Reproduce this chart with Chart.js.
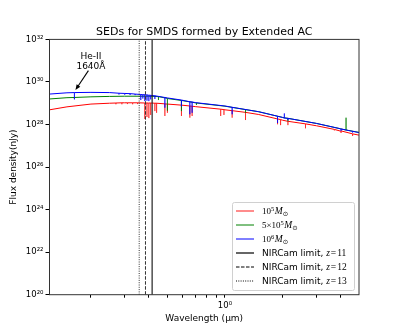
<!DOCTYPE html>
<html>
<head>
<meta charset="utf-8">
<script src="https://cdn.jsdelivr.net/npm/chart.js@4"></script>
<style>
  html, body { margin: 0; padding: 0; background: #fff; }
  #wrap { width: 399px; height: 332px; }
</style>
</head>
<body>
<div id="wrap"><canvas id="chart" width="399" height="332"></canvas></div>
<script>
// continuum (log10 of flux in nJy)
const wavelengths = [0.1216, 0.15, 0.2, 0.25, 0.3, 0.4, 0.5, 0.7, 1.0, 1.5, 2.0, 3.0, 4.0, 5.0];
const logFlux1e5 = [28.69, 28.83, 28.96, 29.00, 29.02, 29.01, 28.96, 28.84, 28.69, 28.47, 28.20, 27.94, 27.69, 27.50];
const logFlux5e5 = [29.20, 29.26, 29.30, 29.32, 29.33, 29.33, 29.23, 29.02, 28.86, 28.60, 28.33, 28.05, 27.80, 27.63];
const logFlux1e6 = [29.43, 29.49, 29.51, 29.50, 29.46, 29.38, 29.25, 29.03, 28.87, 28.60, 28.33, 28.05, 27.80, 27.62];

// spectral lines: [wavelength, log flux at the continuum, log flux at the tip]
const lines1e5 = [
  [0.27, 29.01, 28.95], [0.29, 29.02, 28.95], [0.31, 29.02, 28.96], [0.33, 29.02, 28.95],
  [0.35, 29.02, 28.96], [0.382, 29.01, 28.26], [0.392, 29.01, 28.35], [0.401, 29.01, 28.30],
  [0.410, 29.01, 28.45], [0.431, 29.00, 28.63], [0.440, 29.00, 28.55], [0.486, 28.97, 28.40],
  [0.501, 28.96, 28.55], [0.593, 28.91, 28.40], [0.656, 28.87, 28.32], [0.674, 28.86, 28.40],
  [0.950, 28.72, 28.40], [0.988, 28.70, 28.45], [1.09, 28.65, 28.32], [1.28, 28.57, 28.21],
  [1.88, 28.26, 28.01], [1.95, 28.23, 27.97], [2.13, 28.15, 27.97], [2.63, 28.03, 27.82],
  [3.72, 27.77, 27.72], [4.03, 27.70, 27.60], [4.63, 27.56, 27.46]
];
const lines5e5 = [
  [0.164, 29.27, 29.22], [0.45, 29.31, 29.15], [0.501, 29.22, 28.65], [0.593, 29.13, 28.63],
  [0.71, 29.01, 28.92], [1.28, 28.70, 28.55], [2.13, 28.29, 28.15], [4.28, 27.74, 28.32]
];
const lines1e6 = [
  [0.164, 29.50, 29.18], [0.28, 29.47, 29.41], [0.30, 29.46, 29.40], [0.32, 29.45, 29.39],
  [0.34, 29.43, 29.38], [0.364, 29.41, 29.15], [0.373, 29.40, 29.22], [0.382, 29.40, 29.10],
  [0.392, 29.39, 29.12], [0.401, 29.38, 29.10], [0.410, 29.37, 29.18], [0.431, 29.35, 29.20],
  [0.486, 29.27, 28.79], [0.593, 29.15, 28.85], [0.656, 29.07, 28.48], [0.674, 29.06, 28.55],
  [1.09, 28.81, 28.48], [1.88, 28.39, 28.07], [2.04, 28.30, 28.52], [2.13, 28.29, 28.20],
  [4.03, 27.79, 27.70], [4.63, 27.68, 27.62]
];

// NIRCam red limit in rest frame, z = 11, 12, 13
const nircamLimits = [0.417, 0.385, 0.357];
const nircamRedshifts = ["11", "12", "13"];

const yTickExps = [20, 22, 24, 26, 28, 30, 32];
const xTicks = [0.2, 0.3, 0.4, 0.5, 0.6, 0.7, 0.8, 0.9, 1, 2, 3, 4];

const heIIText = ["He-II", "1640Å"];
const heIIArrowFrom = [0.194, 30.53];
const heIIArrowTo = [0.166, 29.62];

const sup = s => String(s).split("").map(c => "⁰¹²³⁴⁵⁶⁷⁸⁹"[+c]).join("");

function buildSeries(logs, lines) {
  const pts = wavelengths.map((w, i) => ({ x: w, y: Math.pow(10, logs[i]) }));
  lines.forEach(([w, top, tip]) => {
    pts.push({ x: w, y: Math.pow(10, top) }, { x: w, y: Math.pow(10, tip) }, { x: w, y: Math.pow(10, top) });
  });
  return pts.sort((a, b) => a.x - b.x);
}

const series = [
  { data: buildSeries(logFlux1e5, lines1e5), color: "#ff0000", spike: "rgba(255,0,0,0.6)", order: 3 },
  { data: buildSeries(logFlux5e5, lines5e5), color: "#008000", spike: "rgba(0,128,0,0.7)", order: 2 },
  { data: buildSeries(logFlux1e6, lines1e6), color: "#0000ff", spike: "rgba(0,0,255,0.7)", order: 1 }
];
const dashes = [[], [3.5, 1.5], [1, 1.3]];

const datasets = series.map(s => ({
  data: s.data, borderColor: s.color, borderWidth: 1, pointRadius: 0, tension: 0, order: s.order,
  segment: { borderColor: c => (c.p0.parsed.x === c.p1.parsed.x ? s.spike : undefined) }
}));
nircamLimits.forEach((w, i) => {
  datasets.push({
    data: [{ x: w, y: 1e20 }, { x: w, y: 1e32 }],
    borderColor: i === 0 ? "#222" : "#333", borderWidth: i === 0 ? 1.2 : 1,
    borderDash: dashes[i], pointRadius: 0, order: 0
  });
});

const legendItems = [
  { color: "rgba(255,0,0,0.45)", width: 2, dash: [], math: ["10", "5"] },
  { color: "#008000", width: 1, dash: [], math: ["5×10", "5"] },
  { color: "#0000ff", width: 1, dash: [], math: ["10", "6"] },
  { color: "#000", width: 1.2, dash: [], z: nircamRedshifts[0] },
  { color: "#000", width: 1, dash: dashes[1], z: nircamRedshifts[1] },
  { color: "#000", width: 1, dash: dashes[2], z: nircamRedshifts[2] }
];

const decor = {
  id: "decor",
  afterDraw(chart) {
    const { ctx, chartArea: a, scales: { x, y } } = chart;
    ctx.save();
    ctx.strokeStyle = "#333";
    ctx.lineWidth = 1;
    ctx.strokeRect(a.left, a.top, a.right - a.left, a.bottom - a.top);

    ctx.fillStyle = "#000";
    ctx.textAlign = "center";
    ctx.textBaseline = "alphabetic";
    ctx.font = '11px "DejaVu Sans"';
    ctx.fillText("SEDs for SMDS formed by Extended AC", (a.left + a.right) / 2, 34.5);
    ctx.font = '9px "DejaVu Sans"';
    ctx.fillText("Wavelength (μm)", (a.left + a.right) / 2, 321);
    ctx.save();
    ctx.translate(13.5, (a.top + a.bottom) / 2);
    ctx.rotate(-Math.PI / 2);
    ctx.textBaseline = "middle";
    ctx.fillText("Flux density(nJy)", 0, 0);
    ctx.restore();

    // He-II annotation
    const tx = x.getPixelForValue(0.2);
    ctx.font = '9px "DejaVu Sans"';
    ctx.fillText(heIIText[0], tx, y.getPixelForValue(Math.pow(10, 31.1)));
    ctx.fillText(heIIText[1], tx, y.getPixelForValue(Math.pow(10, 30.6)));
    const x0 = x.getPixelForValue(heIIArrowFrom[0]), y0 = y.getPixelForValue(Math.pow(10, heIIArrowFrom[1]));
    const x1 = x.getPixelForValue(heIIArrowTo[0]), y1 = y.getPixelForValue(Math.pow(10, heIIArrowTo[1]));
    const ang = Math.atan2(y1 - y0, x1 - x0);
    ctx.strokeStyle = "#000";
    ctx.lineWidth = 1.1;
    ctx.beginPath();
    ctx.moveTo(x0, y0);
    ctx.lineTo(x1 - 4 * Math.cos(ang), y1 - 4 * Math.sin(ang));
    ctx.stroke();
    ctx.beginPath();
    ctx.moveTo(x1, y1);
    ctx.lineTo(x1 - 5.5 * Math.cos(ang) + 2.2 * Math.sin(ang), y1 - 5.5 * Math.sin(ang) - 2.2 * Math.cos(ang));
    ctx.lineTo(x1 - 5.5 * Math.cos(ang) - 2.2 * Math.sin(ang), y1 - 5.5 * Math.sin(ang) + 2.2 * Math.cos(ang));
    ctx.closePath();
    ctx.fill();

    // legend
    const lx = 232.5, ly = 202.5, lw = 122, lh = 88;
    ctx.fillStyle = "rgba(255,255,255,0.85)";
    ctx.strokeStyle = "#d0d0d0";
    ctx.lineWidth = 1;
    ctx.beginPath();
    ctx.roundRect(lx, ly, lw, lh, 2);
    ctx.fill();
    ctx.stroke();
    legendItems.forEach((it, i) => {
      const ry = 211 + i * 14;
      ctx.strokeStyle = it.color;
      ctx.lineWidth = it.width;
      ctx.setLineDash(it.dash);
      ctx.beginPath();
      ctx.moveTo(236, ry);
      ctx.lineTo(254, ry);
      ctx.stroke();
      ctx.setLineDash([]);
      ctx.fillStyle = "#000";
      ctx.textAlign = "left";
      ctx.textBaseline = "alphabetic";
      let px = 262;
      const base = ry + 3.2;
      if (it.math) {
        ctx.font = '9px "Liberation Serif"';
        ctx.fillText(it.math[0], px, base); px += ctx.measureText(it.math[0]).width;
        ctx.font = '6.5px "Liberation Serif"';
        ctx.fillText(it.math[1], px, base - 3.5); px += ctx.measureText(it.math[1]).width + 0.5;
        ctx.font = 'italic 9.5px "Liberation Serif"';
        ctx.fillText("M", px, base); px += ctx.measureText("M").width;
        ctx.font = '6.5px "DejaVu Sans"';
        ctx.fillText("⊙", px, base + 2);
      } else {
        ctx.font = '9px "DejaVu Sans"';
        const t = "NIRCam limit, ";
        ctx.fillText(t, px, base); px += ctx.measureText(t).width;
        ctx.font = 'italic 9.5px "Liberation Serif"';
        ctx.fillText("z", px, base); px += ctx.measureText("z").width + 1;
        ctx.font = '9.5px "Liberation Serif"';
        ctx.fillText("=", px, base); px += ctx.measureText("=").width + 1;
        ctx.fillText(it.z, px, base);
      }
    });
    ctx.restore();
  }
};

new Chart(document.getElementById("chart").getContext("2d"), {
  type: "line",
  data: { datasets },
  plugins: [decor],
  options: {
    responsive: false,
    animation: false,
    events: [],
    layout: { padding: { left: 0, right: 40, top: 39.4, bottom: 0 } },
    plugins: { legend: { display: false }, title: { display: false }, tooltip: { enabled: false } },
    scales: {
      x: {
        type: "logarithmic",
        min: 0.1216,
        max: 5,
        afterBuildTicks: s => { s.ticks = xTicks.map(v => ({ value: v })); },
        afterFit: s => { s.height = 37.3; },
        border: { display: false },
        grid: { display: true, drawOnChartArea: false, drawTicks: true, tickLength: 3, color: "#000" },
        ticks: {
          autoSkip: false, maxRotation: 0, padding: 3, color: "#000",
          font: { family: "DejaVu Sans", size: 8.5 },
          callback: v => (v === 1 ? "10" + sup(0) : "")
        }
      },
      y: {
        type: "logarithmic",
        min: 1e20,
        max: 1e32,
        afterBuildTicks: s => { s.ticks = yTickExps.map(e => ({ value: Math.pow(10, e) })); },
        afterFit: s => { s.width = 49.5; },
        border: { display: false },
        grid: { display: true, drawOnChartArea: false, drawTicks: true, tickLength: 4, color: "#000" },
        ticks: {
          autoSkip: false, padding: 2, color: "#000",
          font: { family: "DejaVu Sans", size: 8.5 },
          callback: v => "10" + sup(Math.round(Math.log10(v)))
        }
      }
    }
  }
});
</script>
</body>
</html>
